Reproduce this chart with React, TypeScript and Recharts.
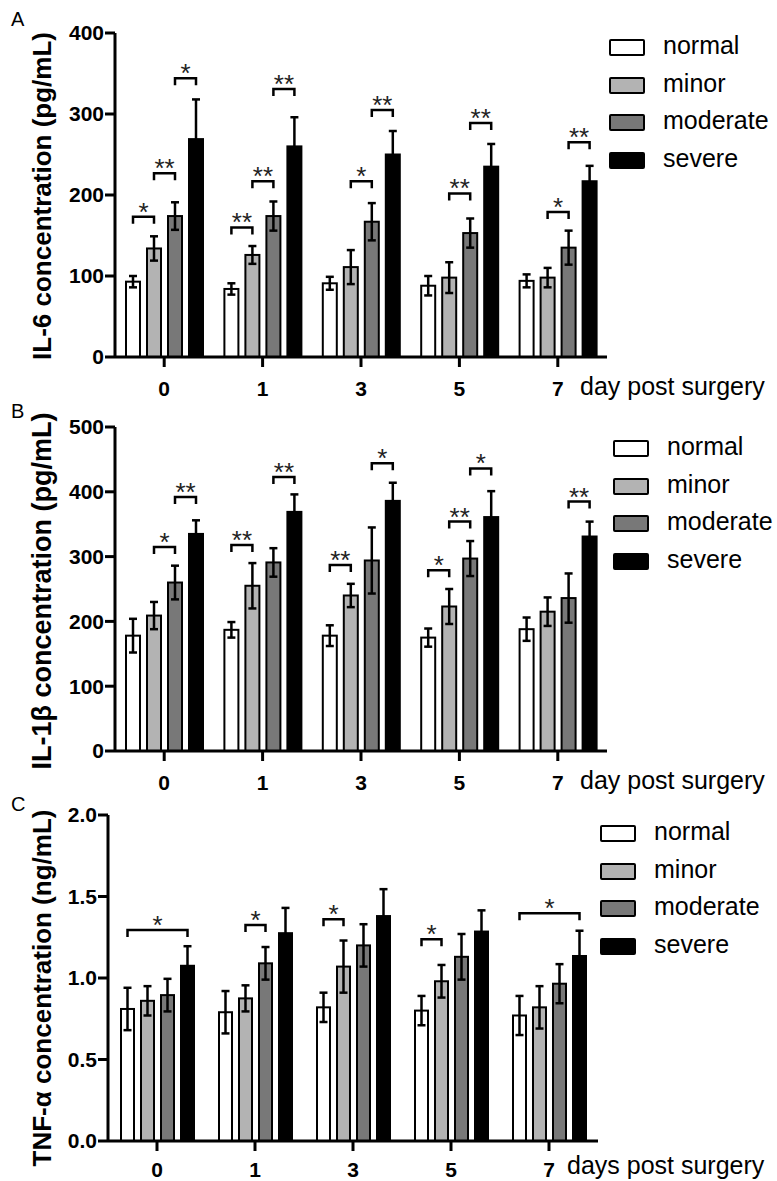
import { BarChart, Bar, XAxis, YAxis, ErrorBar, Legend } from "recharts";

const FONT = '"Liberation Sans", Arial, Helvetica, sans-serif';

const days = ["0", "1", "3", "5", "7"];
const groups = ["normal", "minor", "moderate", "severe"];
const groupFills = ["#ffffff", "#b3b3b3", "#787878", "#000000"];

// A: IL-6 (pg/mL)
const il6Normal = [93, 84, 91, 88, 94];
const il6NormalErr = [7, 7, 8, 12, 8];
const il6Minor = [134, 126, 111, 98, 98];
const il6MinorErr = [15, 11, 21, 19, 12];
const il6Moderate = [174, 174, 167, 153, 135];
const il6ModerateErr = [17, 18, 23, 18, 21];
const il6Severe = [269, 260, 250, 235, 217];
const il6SevereErr = [49, 36, 29, 28, 19];

// B: IL-1β (pg/mL)
const il1bNormal = [178, 187, 178, 175, 188];
const il1bNormalErr = [26, 12, 16, 14, 18];
const il1bMinor = [209, 255, 240, 223, 215];
const il1bMinorErr = [21, 35, 18, 27, 22];
const il1bModerate = [260, 291, 294, 297, 236];
const il1bModerateErr = [26, 22, 51, 27, 38];
const il1bSevere = [335, 369, 386, 361, 331];
const il1bSevereErr = [21, 27, 28, 40, 23];

// C: TNF-α (ng/mL)
const tnfNormal = [0.81, 0.79, 0.82, 0.8, 0.77];
const tnfNormalErr = [0.13, 0.13, 0.09, 0.09, 0.12];
const tnfMinor = [0.86, 0.875, 1.07, 0.98, 0.82];
const tnfMinorErr = [0.09, 0.08, 0.16, 0.1, 0.13];
const tnfModerate = [0.895, 1.09, 1.2, 1.13, 0.965];
const tnfModerateErr = [0.1, 0.1, 0.13, 0.14, 0.12];
const tnfSevere = [1.075, 1.275, 1.38, 1.285, 1.135];
const tnfSevereErr = [0.12, 0.155, 0.165, 0.13, 0.155];

type Bracket = { day: number; from: number; to: number; y: number; mark: string };

// significance brackets: day index, from/to group index, height in data units
const il6Brackets: Bracket[] = [
  { day: 0, from: 0, to: 1, y: 173, mark: "*" },
  { day: 0, from: 1, to: 2, y: 227, mark: "**" },
  { day: 0, from: 2, to: 3, y: 344, mark: "*" },
  { day: 1, from: 0, to: 1, y: 160, mark: "**" },
  { day: 1, from: 1, to: 2, y: 217, mark: "**" },
  { day: 1, from: 2, to: 3, y: 331, mark: "**" },
  { day: 2, from: 1, to: 2, y: 217, mark: "*" },
  { day: 2, from: 2, to: 3, y: 305, mark: "**" },
  { day: 3, from: 1, to: 2, y: 202, mark: "**" },
  { day: 3, from: 2, to: 3, y: 289, mark: "**" },
  { day: 4, from: 1, to: 2, y: 179, mark: "*" },
  { day: 4, from: 2, to: 3, y: 265, mark: "**" },
];

const il1bBrackets: Bracket[] = [
  { day: 0, from: 1, to: 2, y: 315, mark: "*" },
  { day: 0, from: 2, to: 3, y: 392, mark: "**" },
  { day: 1, from: 0, to: 1, y: 318, mark: "**" },
  { day: 1, from: 2, to: 3, y: 423, mark: "**" },
  { day: 2, from: 0, to: 1, y: 287, mark: "**" },
  { day: 2, from: 2, to: 3, y: 444, mark: "*" },
  { day: 3, from: 0, to: 1, y: 279, mark: "*" },
  { day: 3, from: 1, to: 2, y: 354, mark: "**" },
  { day: 3, from: 2, to: 3, y: 436, mark: "*" },
  { day: 4, from: 2, to: 3, y: 385, mark: "**" },
];

const tnfBrackets: Bracket[] = [
  { day: 0, from: 0, to: 3, y: 1.294, mark: "*" },
  { day: 1, from: 1, to: 2, y: 1.325, mark: "*" },
  { day: 2, from: 0, to: 1, y: 1.36, mark: "*" },
  { day: 3, from: 0, to: 1, y: 1.237, mark: "*" },
  { day: 4, from: 0, to: 3, y: 1.397, mark: "*" },
];

function buildRows(series: number[][], errors: number[][]) {
  return days.map((day, i) => {
    const row: any = { day };
    groups.forEach((g, s) => {
      row[g] = series[s][i];
      row[g + "Err"] = errors[s][i];
    });
    return row;
  });
}

const il6Rows = buildRows(
  [il6Normal, il6Minor, il6Moderate, il6Severe],
  [il6NormalErr, il6MinorErr, il6ModerateErr, il6SevereErr]
);
const il1bRows = buildRows(
  [il1bNormal, il1bMinor, il1bModerate, il1bSevere],
  [il1bNormalErr, il1bMinorErr, il1bModerateErr, il1bSevereErr]
);
const tnfRows = buildRows(
  [tnfNormal, tnfMinor, tnfModerate, tnfSevere],
  [tnfNormalErr, tnfMinorErr, tnfModerateErr, tnfSevereErr]
);

function makeShape(s: number, brackets: Bracket[], gap: number) {
  return (props: any) => {
    const { x, y, width, height, index, fill } = props;
    const val = props.payload ? props.payload[groups[s]] : 0;
    const zero = y + height;
    const ppu = val ? height / val : 0;
    const own = brackets.filter((b) => b.day === index && b.from === s);
    return (
      <g>
        <rect x={x} y={y} width={width} height={height} fill={fill} stroke="#000" strokeWidth={2} />
        {own.map((b, i) => {
          const x1 = x + width / 2;
          const x2 = x1 + (b.to - b.from) * (width + gap);
          const by = zero - b.y * ppu;
          return (
            <g key={i}>
              <path d={`M${x1},${by + 7}V${by}H${x2}V${by + 7}`} fill="none" stroke="#000" strokeWidth={2.5} />
              <text x={(x1 + x2) / 2} y={by + 4} textAnchor="middle" fontSize={26} fontFamily={FONT} fill="#222">
                {b.mark}
              </text>
            </g>
          );
        })}
      </g>
    );
  };
}

function LegendBox({ textGap }: { textGap: number }) {
  return (
    <div style={{ fontFamily: FONT }}>
      {groups.map((g, i) => (
        <div key={g} style={{ display: "flex", alignItems: "center", height: 37.5 }}>
          <div
            style={{
              width: 32,
              height: 13,
              background: groupFills[i],
              border: "2.5px solid #000",
              borderRadius: 2,
            }}
          />
          <span style={{ marginLeft: textGap, fontSize: 25, lineHeight: 1, color: "#000", position: "relative", top: -2 }}>
            {g}
          </span>
        </div>
      ))}
    </div>
  );
}

type PanelProps = {
  letter: string;
  top: number;
  height: number;
  rows: any[];
  brackets: Bracket[];
  domain: [number, number];
  ticks: number[];
  fmt: (v: number) => string;
  title: string;
  titleSize: number;
  titleShift: number;
  note: string;
  noteDx: number;
  noteDy: number;
  noteSize: number;
  tickGap: number;
  margin: { top: number; right: number; bottom: number; left: number };
  yWidth: number;
  xHeight: number;
  barSize: number;
  barGap: number;
  legendLeft: number;
  legendTop: number;
  letterTop: number;
};

function Panel(p: PanelProps) {
  const tickStyle = { fill: "#000", fontSize: 21, fontWeight: "bold" as const, fontFamily: FONT };
  return (
    <div style={{ position: "absolute", left: 0, top: p.top, width: 777, height: p.height }}>
      <div style={{ position: "absolute", left: 11, top: p.letterTop, fontSize: 20, fontFamily: FONT, color: "#000" }}>
        {p.letter}
      </div>
      <BarChart
        width={777}
        height={p.height}
        data={p.rows}
        margin={p.margin}
        barSize={p.barSize}
        barGap={p.barGap}
        style={{ fontFamily: FONT }}
      >
        <XAxis
          dataKey="day"
          interval={0}
          height={p.xHeight}
          axisLine={{ stroke: "#000", strokeWidth: 3 }}
          tickLine={{ stroke: "#000", strokeWidth: 3 }}
          tickSize={10}
          tickMargin={p.tickGap}
          tick={tickStyle}
          label={(lp: any) => {
            const vb = lp.viewBox || {};
            return (
              <text x={vb.x + vb.width + p.noteDx} y={vb.y + p.noteDy} fontSize={p.noteSize} fontFamily={FONT} fill="#000">
                {p.note}
              </text>
            );
          }}
        />
        <YAxis
          width={p.yWidth}
          domain={p.domain}
          ticks={p.ticks}
          tickFormatter={p.fmt}
          axisLine={{ stroke: "#000", strokeWidth: 3 }}
          tickLine={{ stroke: "#000", strokeWidth: 3 }}
          tickSize={10}
          tickMargin={1}
          tick={tickStyle}
          label={(lp: any) => {
            const vb = lp.viewBox || {};
            const cx = 42;
            const cy = vb.y + vb.height / 2 + p.titleShift;
            return (
              <text
                x={cx}
                y={cy}
                transform={`rotate(-90 ${cx} ${cy})`}
                textAnchor="middle"
                dominantBaseline="central"
                fontSize={p.titleSize}
                fontWeight="bold"
                fontFamily={FONT}
                fill="#000"
              >
                {p.title}
              </text>
            );
          }}
        />
        <Legend
          layout="vertical"
          align="center"
          verticalAlign="middle"
          content={() => <LegendBox textGap={18} />}
          wrapperStyle={{ left: p.legendLeft, top: p.legendTop, width: 170, height: 150 }}
        />
        {groups.map((g, s) => (
          <Bar
            key={g}
            dataKey={g}
            name={g}
            fill={groupFills[s]}
            stroke="#000"
            isAnimationActive={false}
            shape={makeShape(s, p.brackets, p.barGap)}
          >
            <ErrorBar dataKey={g + "Err"} width={4} stroke="#000" strokeWidth={2.5} isAnimationActive={false} />
          </Bar>
        ))}
      </BarChart>
    </div>
  );
}

export default function App() {
  return (
    <div style={{ position: "absolute", left: 0, top: 0, width: 777, height: 1181, background: "#fff", fontFamily: FONT }}>
      <Panel
        letter="A"
        top={0}
        height={410}
        rows={il6Rows}
        brackets={il6Brackets}
        domain={[0, 400]}
        ticks={[0, 100, 200, 300, 400]}
        fmt={(v) => String(v)}
        title="IL-6 concentration (pg/mL)"
        titleSize={26}
        titleShift={1}
        note="day post surgery"
        noteDx={-27}
        noteDy={38}
        noteSize={25}
        tickGap={14}
        margin={{ top: 33, right: 170, bottom: 13, left: 0 }}
        yWidth={115}
        xHeight={40}
        barSize={14}
        barGap={7}
        legendLeft={609}
        legendTop={29}
        letterTop={8}
      />
      <Panel
        letter="B"
        top={400}
        height={405}
        rows={il1bRows}
        brackets={il1bBrackets}
        domain={[0, 500]}
        ticks={[0, 100, 200, 300, 400, 500]}
        fmt={(v) => String(v)}
        title="IL-1β concentration (pg/mL)"
        titleSize={27}
        titleShift={2}
        note="day post surgery"
        noteDx={-27}
        noteDy={38}
        noteSize={25}
        tickGap={14}
        margin={{ top: 27, right: 170, bottom: 14, left: 0 }}
        yWidth={115}
        xHeight={40}
        barSize={14}
        barGap={7}
        legendLeft={613}
        legendTop={30}
        letterTop={0}
      />
      <Panel
        letter="C"
        top={795}
        height={386}
        rows={tnfRows}
        brackets={tnfBrackets}
        domain={[0, 2]}
        ticks={[0, 0.5, 1, 1.5, 2]}
        fmt={(v) => v.toFixed(1)}
        title="TNF-α concentration (ng/mL)"
        titleSize={26}
        titleShift={10}
        note="days post surgery"
        noteDx={-31}
        noteDy={33}
        noteSize={25}
        tickGap={11}
        margin={{ top: 20, right: 179, bottom: 2, left: 0 }}
        yWidth={108}
        xHeight={38}
        barSize={13}
        barGap={7}
        legendLeft={600}
        legendTop={20}
        letterTop={-2}
      />
    </div>
  );
}
